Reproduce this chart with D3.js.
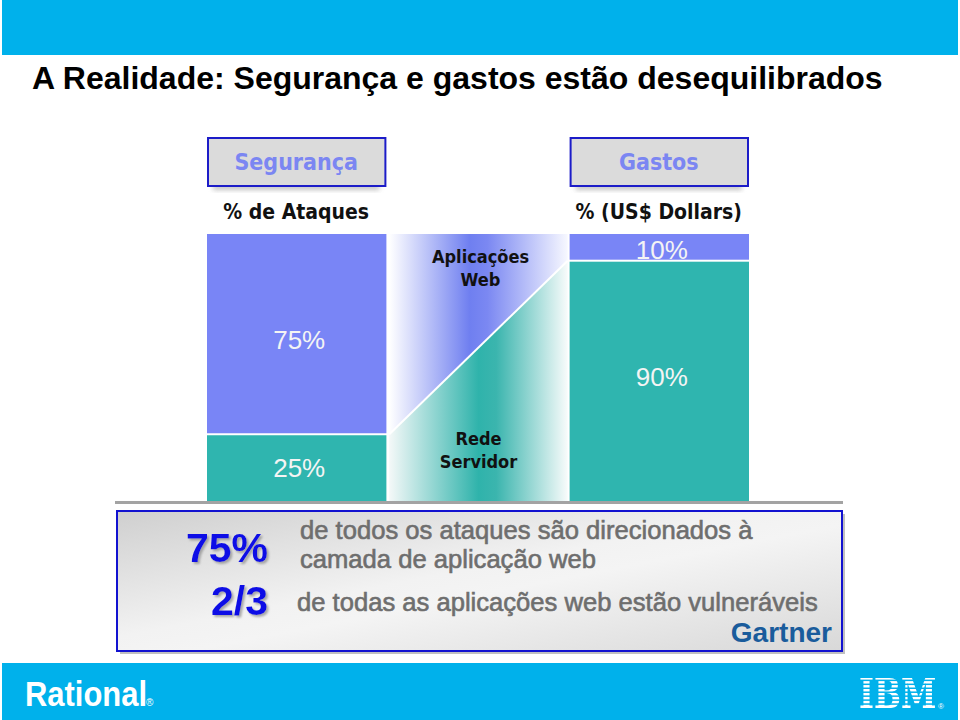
<!DOCTYPE html>
<html><head><meta charset="utf-8">
<script src="https://cdn.jsdelivr.net/npm/d3@7"></script>
<style>html,body{margin:0;padding:0;background:#fff;}svg{display:block;}</style>
</head><body>
<script>
const title = "A Realidade: Segurança e gastos estão desequilibrados";
const categories = ["Segurança", "Gastos"];
const subtitles = ["% de Ataques", "% (US$ Dollars)"];
const layers = ["Aplicações Web", "Rede Servidor"];
const appWebShare = [75, 10];
const networkShare = [25, 90];
const statValues = ["75%", "2/3"];
const statTexts = [["de todos os ataques são direcionados à", "camada de aplicação web"], ["de todas as aplicações web estão vulneráveis"]];
const source = "Gartner";

const W = 960, H = 720;
const svg = d3.select("body").append("svg").attr("width", W).attr("height", H);
const defs = svg.append("defs");

const x = d3.scaleBand().domain([categories[0], "mid", categories[1]]).range([207, 750]).paddingInner(0.005);
const y = d3.scaleLinear().domain([0, 100]).range([501, 234]);

const SANS = "'Liberation Sans', Arial, sans-serif";
const TAH = "'DejaVu Sans Condensed', 'DejaVu Sans', Verdana, sans-serif";
const BLUE = "#7985F6", TEAL = "#2FB5AF";

// gradients
const gTop = defs.append("linearGradient").attr("id", "gTop");
[[0, "#ffffff"], [0.45, "#6f7ff0"], [0.55, "#7b88f2"], [1, "#f7f8ff"]].forEach(s => gTop.append("stop").attr("offset", s[0]).attr("stop-color", s[1]));
const gBot = defs.append("linearGradient").attr("id", "gBot");
[[0, "#f4f8f8"], [0.5, "#2fb3ab"], [0.6, "#3bb5ae"], [1, "#f8fbfb"]].forEach(s => gBot.append("stop").attr("offset", s[0]).attr("stop-color", s[1]));
const gBox = defs.append("linearGradient").attr("id", "gBox").attr("x1", 0).attr("y1", 0).attr("x2", 1).attr("y2", 1);
[[0, "#cfcfcf"], [0.45, "#f2f2f2"], [0.55, "#f4f4f4"], [1, "#d8d8d8"]].forEach(s => gBox.append("stop").attr("offset", s[0]).attr("stop-color", s[1]));
const blur = defs.append("filter").attr("id", "blur").attr("x", "-10%").attr("y", "-50%").attr("width", "120%").attr("height", "200%");
blur.append("feGaussianBlur").attr("stdDeviation", 2.5);
const tshadow = defs.append("filter").attr("id", "tsh");
tshadow.append("feDropShadow").attr("dx", 2).attr("dy", 2).attr("stdDeviation", 1.2).attr("flood-color", "#888").attr("flood-opacity", 0.7);

// bands
svg.append("rect").attr("x", 2).attr("y", 0).attr("width", 956).attr("height", 55).attr("fill", "#00B1EB");
svg.append("rect").attr("x", 2).attr("y", 663).attr("width", 956).attr("height", 57).attr("fill", "#00B1EB");

svg.append("text").attr("x", 32).attr("y", 89).attr("font-family", SANS).attr("font-weight", "bold")
  .attr("font-size", 32).attr("fill", "#000").text(title);

// header boxes
categories.forEach((c, i) => {
  const bx = x(c), bw = x.bandwidth() - 2;
  svg.append("rect").attr("x", bx + 6).attr("y", 184).attr("width", bw - 12).attr("height", 6)
    .attr("fill", "#9a9a9a").attr("opacity", 0.6).attr("filter", "url(#blur)");
  svg.append("rect").attr("x", bx + 1).attr("y", 138).attr("width", bw - 1).attr("height", 48)
    .attr("fill", "#DBDBDB").attr("stroke", "#1C1CC8").attr("stroke-width", 2);
  svg.append("text").attr("x", bx + bw / 2).attr("y", 170).attr("text-anchor", "middle")
    .attr("font-family", TAH).attr("font-weight", "bold").attr("font-size", 23).attr("fill", "#7B86F2").text(c);
  svg.append("text").attr("x", bx + bw / 2).attr("y", 219).attr("text-anchor", "middle")
    .attr("font-family", TAH).attr("font-weight", "bold").attr("font-size", 21).attr("fill", "#111").text(subtitles[i]);
});

// stacked bars
categories.forEach((c, i) => {
  const bx = x(c), bw = x.bandwidth() - 1;
  const split = y(networkShare[i]);
  svg.append("rect").attr("x", bx).attr("y", y(100)).attr("width", bw).attr("height", split - y(100) - 1).attr("fill", BLUE);
  svg.append("rect").attr("x", bx).attr("y", split + 1).attr("width", bw).attr("height", y(0) - split - 1).attr("fill", TEAL);
});

// transition column
const mx = x("mid") + 1, mw = x.bandwidth() - 2;
const yl = y(networkShare[0]), yr = y(networkShare[1]);
svg.append("path").attr("d", `M${mx},${y(100)}H${mx + mw}V${yr}L${mx},${yl}Z`).attr("fill", "url(#gTop)");
svg.append("path").attr("d", `M${mx},${yl}L${mx + mw},${yr}V${y(0)}H${mx}Z`).attr("fill", "url(#gBot)");
svg.append("line").attr("x1", mx).attr("y1", yl).attr("x2", mx + mw).attr("y2", yr).attr("stroke", "#fff").attr("stroke-width", 2);

const midC = mx + mw / 2 + 2;
const topWords = layers[0].split(" "), botWords = layers[1].split(" ");
topWords.forEach((w, k) => svg.append("text").attr("x", midC).attr("y", 263 + k * 23).attr("text-anchor", "middle")
  .attr("font-family", TAH).attr("font-weight", "bold").attr("font-size", 18).attr("fill", "#111").text(w));
botWords.forEach((w, k) => svg.append("text").attr("x", midC - 2).attr("y", 445 + k * 23).attr("text-anchor", "middle")
  .attr("font-family", TAH).attr("font-weight", "bold").attr("font-size", 18).attr("fill", "#111").text(w));

// value labels
categories.forEach((c, i) => {
  const cx = x(c) + x.bandwidth() / 2 + 2;
  const split = y(networkShare[i]);
  const appMid = (y(100) + split) / 2, netMid = (split + y(0)) / 2;
  svg.append("text").attr("x", cx).attr("y", i === 0 ? appMid + 15 : 259).attr("text-anchor", "middle")
    .attr("font-family", SANS).attr("font-size", 26).attr("fill", "#f4f4f4").text(appWebShare[i] + "%");
  svg.append("text").attr("x", cx).attr("y", i === 0 ? 477 : netMid + 5).attr("text-anchor", "middle")
    .attr("font-family", SANS).attr("font-size", 26).attr("fill", "#f4f4f4").text(networkShare[i] + "%");
});

// baseline
svg.append("line").attr("x1", 115).attr("x2", 843).attr("y1", y(0) + 1.5).attr("y2", y(0) + 1.5).attr("stroke", "#a3a3a3").attr("stroke-width", 3);

// bottom box
svg.append("rect").attr("x", 120).attr("y", 514).attr("width", 725).attr("height", 140).attr("fill", "#b0b0b0").attr("opacity", 0.8);
svg.append("rect").attr("x", 117).attr("y", 511).attr("width", 725).attr("height", 140)
  .attr("fill", "url(#gBox)").attr("stroke", "#1212D0").attr("stroke-width", 2);

svg.append("text").attr("x", 268).attr("y", 562).attr("text-anchor", "end").attr("font-family", SANS).attr("font-weight", "bold")
  .attr("font-size", 41).attr("fill", "#1010E6").attr("filter", "url(#tsh)").text(statValues[0]);
svg.append("text").attr("x", 268).attr("y", 615).attr("text-anchor", "end").attr("font-family", SANS).attr("font-weight", "bold")
  .attr("font-size", 41).attr("fill", "#1010E6").attr("filter", "url(#tsh)").text(statValues[1]);
const grayTxt = (lines, tx, ty) => {
  lines.forEach((l, k) => svg.append("text").attr("x", tx).attr("y", ty + k * 29.5).attr("font-family", SANS)
    .attr("font-size", 25.6).attr("fill", "#6e6e6e").attr("stroke", "#6e6e6e").attr("stroke-width", 0.6).text(l));
};
grayTxt(statTexts[0], 300, 538.5);
grayTxt(statTexts[1], 297, 611);
svg.append("text").attr("x", 832).attr("y", 642).attr("text-anchor", "end").attr("font-family", SANS).attr("font-weight", "bold")
  .attr("font-size", 28).attr("fill", "#1A5C9C").text(source);

// footer logos
svg.append("text").attr("transform", "translate(25,706) scale(0.86,1)").attr("font-family", SANS).attr("font-weight", "bold")
  .attr("font-size", 36).attr("fill", "#fff").text("Rational");
svg.append("text").attr("x", 146).attr("y", 706).attr("font-family", SANS).attr("font-size", 10).attr("fill", "#fff").text("®");

const mask = defs.append("mask").attr("id", "ibmMask").attr("maskUnits", "userSpaceOnUse")
  .attr("x", 840).attr("y", 665).attr("width", 110).attr("height", 50);
mask.append("rect").attr("x", 840).attr("y", 665).attr("width", 110).attr("height", 50).attr("fill", "#fff");
d3.range(7).forEach(k => mask.append("rect").attr("x", 840).attr("y", 679.6 + k * 3.95).attr("width", 110).attr("height", 1.5).attr("fill", "#000"));
svg.append("g").attr("mask", "url(#ibmMask)")
  .append("text").attr("transform", "translate(859,708) scale(1.0,1.3)").attr("font-family", "'DejaVu Serif', serif").attr("font-weight", "bold")
  .attr("font-size", 32).attr("fill", "#fff").text("IBM");
svg.append("text").attr("x", 938).attr("y", 709).attr("font-family", SANS).attr("font-size", 8).attr("fill", "#fff").text("®");
</script>
</body></html>
